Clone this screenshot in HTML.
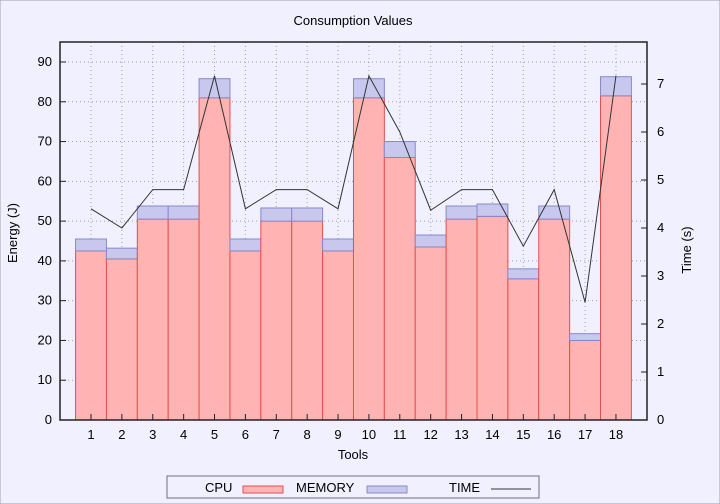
<!DOCTYPE html>
<html><head><meta charset="utf-8"><style>
html,body{margin:0;padding:0;background:#f0f0ff;}
svg{display:block;font-family:"Liberation Sans",sans-serif;}
</style></head><body>
<svg id="c" width="720" height="504" viewBox="0 0 720 504">
<rect x="0" y="0" width="720" height="504" fill="#f0f0ff" stroke="#a0a0a8"/>
<text x="353" y="25" font-size="13" text-anchor="middle">Consumption Values</text>
<g id="grid"></g><g id="bars"></g><g id="line"></g><g id="axes"></g>
<text transform="translate(17,233) rotate(-90)" font-size="13" text-anchor="middle">Energy (J)</text>
<text transform="translate(691,250) rotate(-90)" font-size="13" text-anchor="middle">Time (s)</text>
<text x="353" y="459" font-size="13" text-anchor="middle">Tools</text>
<g>
<rect x="167" y="476" width="372" height="22" fill="none" stroke="#707078"/>
<text x="205" y="492" font-size="13">CPU</text>
<rect x="243" y="486" width="40" height="7" fill="#ffb3b3" stroke="#e05050"/>
<text x="296" y="492" font-size="13">MEMORY</text>
<rect x="367" y="486" width="40" height="7" fill="#c8c8ee" stroke="#8888cc"/>
<text x="449" y="492" font-size="13">TIME</text>
<line x1="491" y1="489" x2="531" y2="489" stroke="#333"/>
</g>
</svg>
<script>
const categories=["1","2","3","4","5","6","7","8","9","10","11","12","13","14","15","16","17","18"];
const cpu=[42.5,40.5,50.5,50.5,81,42.5,50,50,42.5,81,66,43.5,50.5,51.2,35.5,50.5,20,81.5];
const memory=[3,2.7,3.3,3.3,4.8,3,3.3,3.3,3,4.8,4,3,3.3,3.1,2.5,3.3,1.7,4.8];
const time=[4.4,4.0,4.8,4.8,7.17,4.4,4.8,4.8,4.4,7.17,6.0,4.37,4.8,4.8,3.62,4.8,2.45,7.17];
const yTicks=[0,10,20,30,40,50,60,70,80,90];
const y2Ticks=[0,1,2,3,4,5,6,7];
const NS="http://www.w3.org/2000/svg";
const L=60,R=647,T=42,B=420;
const y=v=>B-v*(B-62)/90;
const y2=v=>B-v*(B-84)/7;
const step=30.88, x0=91;
const x=i=>x0+i*step;
function mk(p,t,a){const e=document.createElementNS(NS,t);for(const k in a)e.setAttribute(k,a[k]);p.appendChild(e);return e;}
const g=document.getElementById('grid'),bg=document.getElementById('bars'),lg=document.getElementById('line'),ax=document.getElementById('axes');
yTicks.forEach(v=>{if(v>0){const l=mk(g,'line',{x1:L,x2:R,y1:y(v),y2:y(v),stroke:'#a0a0a8','stroke-dasharray':'1,3'});

}
const t=mk(ax,'text',{x:L-8,y:y(v)+4,'font-size':13,'text-anchor':'end'});t.textContent=v;


mk(ax,'line',{x1:L,x2:L+6,y1:y(v),y2:y(v),stroke:'#222'});});
y2Ticks.forEach(v=>{const t=mk(ax,'text',{x:R+10,y:y2(v)+4,'font-size':13});t.textContent=v;


mk(ax,'line',{x1:R-6,x2:R,y1:y2(v),y2:y2(v),stroke:'#222'});});
categories.forEach((c,i)=>{
const l=mk(g,'line',{x1:x(i),x2:x(i),y1:T,y2:B,stroke:'#a0a0a8','stroke-dasharray':'1,3'});


const w=step,bx=x(i)-w/2;
const r1=mk(bg,'rect',{x:bx,y:y(cpu[i]),width:w,height:B-y(cpu[i]),fill:'#ffb3b3',stroke:'#e05050'});


const top=cpu[i]+memory[i];
const r2=mk(bg,'rect',{x:bx,y:y(top),width:w,height:y(cpu[i])-y(top),fill:'#c8c8ee',stroke:'#8888cc'});


const t=mk(ax,'text',{x:x(i),y:B+19,'font-size':13,'text-anchor':'middle'});t.textContent=c;


mk(ax,'line',{x1:x(i),x2:x(i),y1:B,y2:B-6,stroke:'#222'});
});
const pl=mk(lg,'polyline',{points:time.map((v,i)=>x(i)+','+y2(v)).join(' '),fill:'none',stroke:'#333','stroke-width':1});


const fr=mk(ax,'rect',{x:L,y:T,width:R-L,height:B-T,fill:'none',stroke:'#222','stroke-width':1.5});


</script>
</body></html>
